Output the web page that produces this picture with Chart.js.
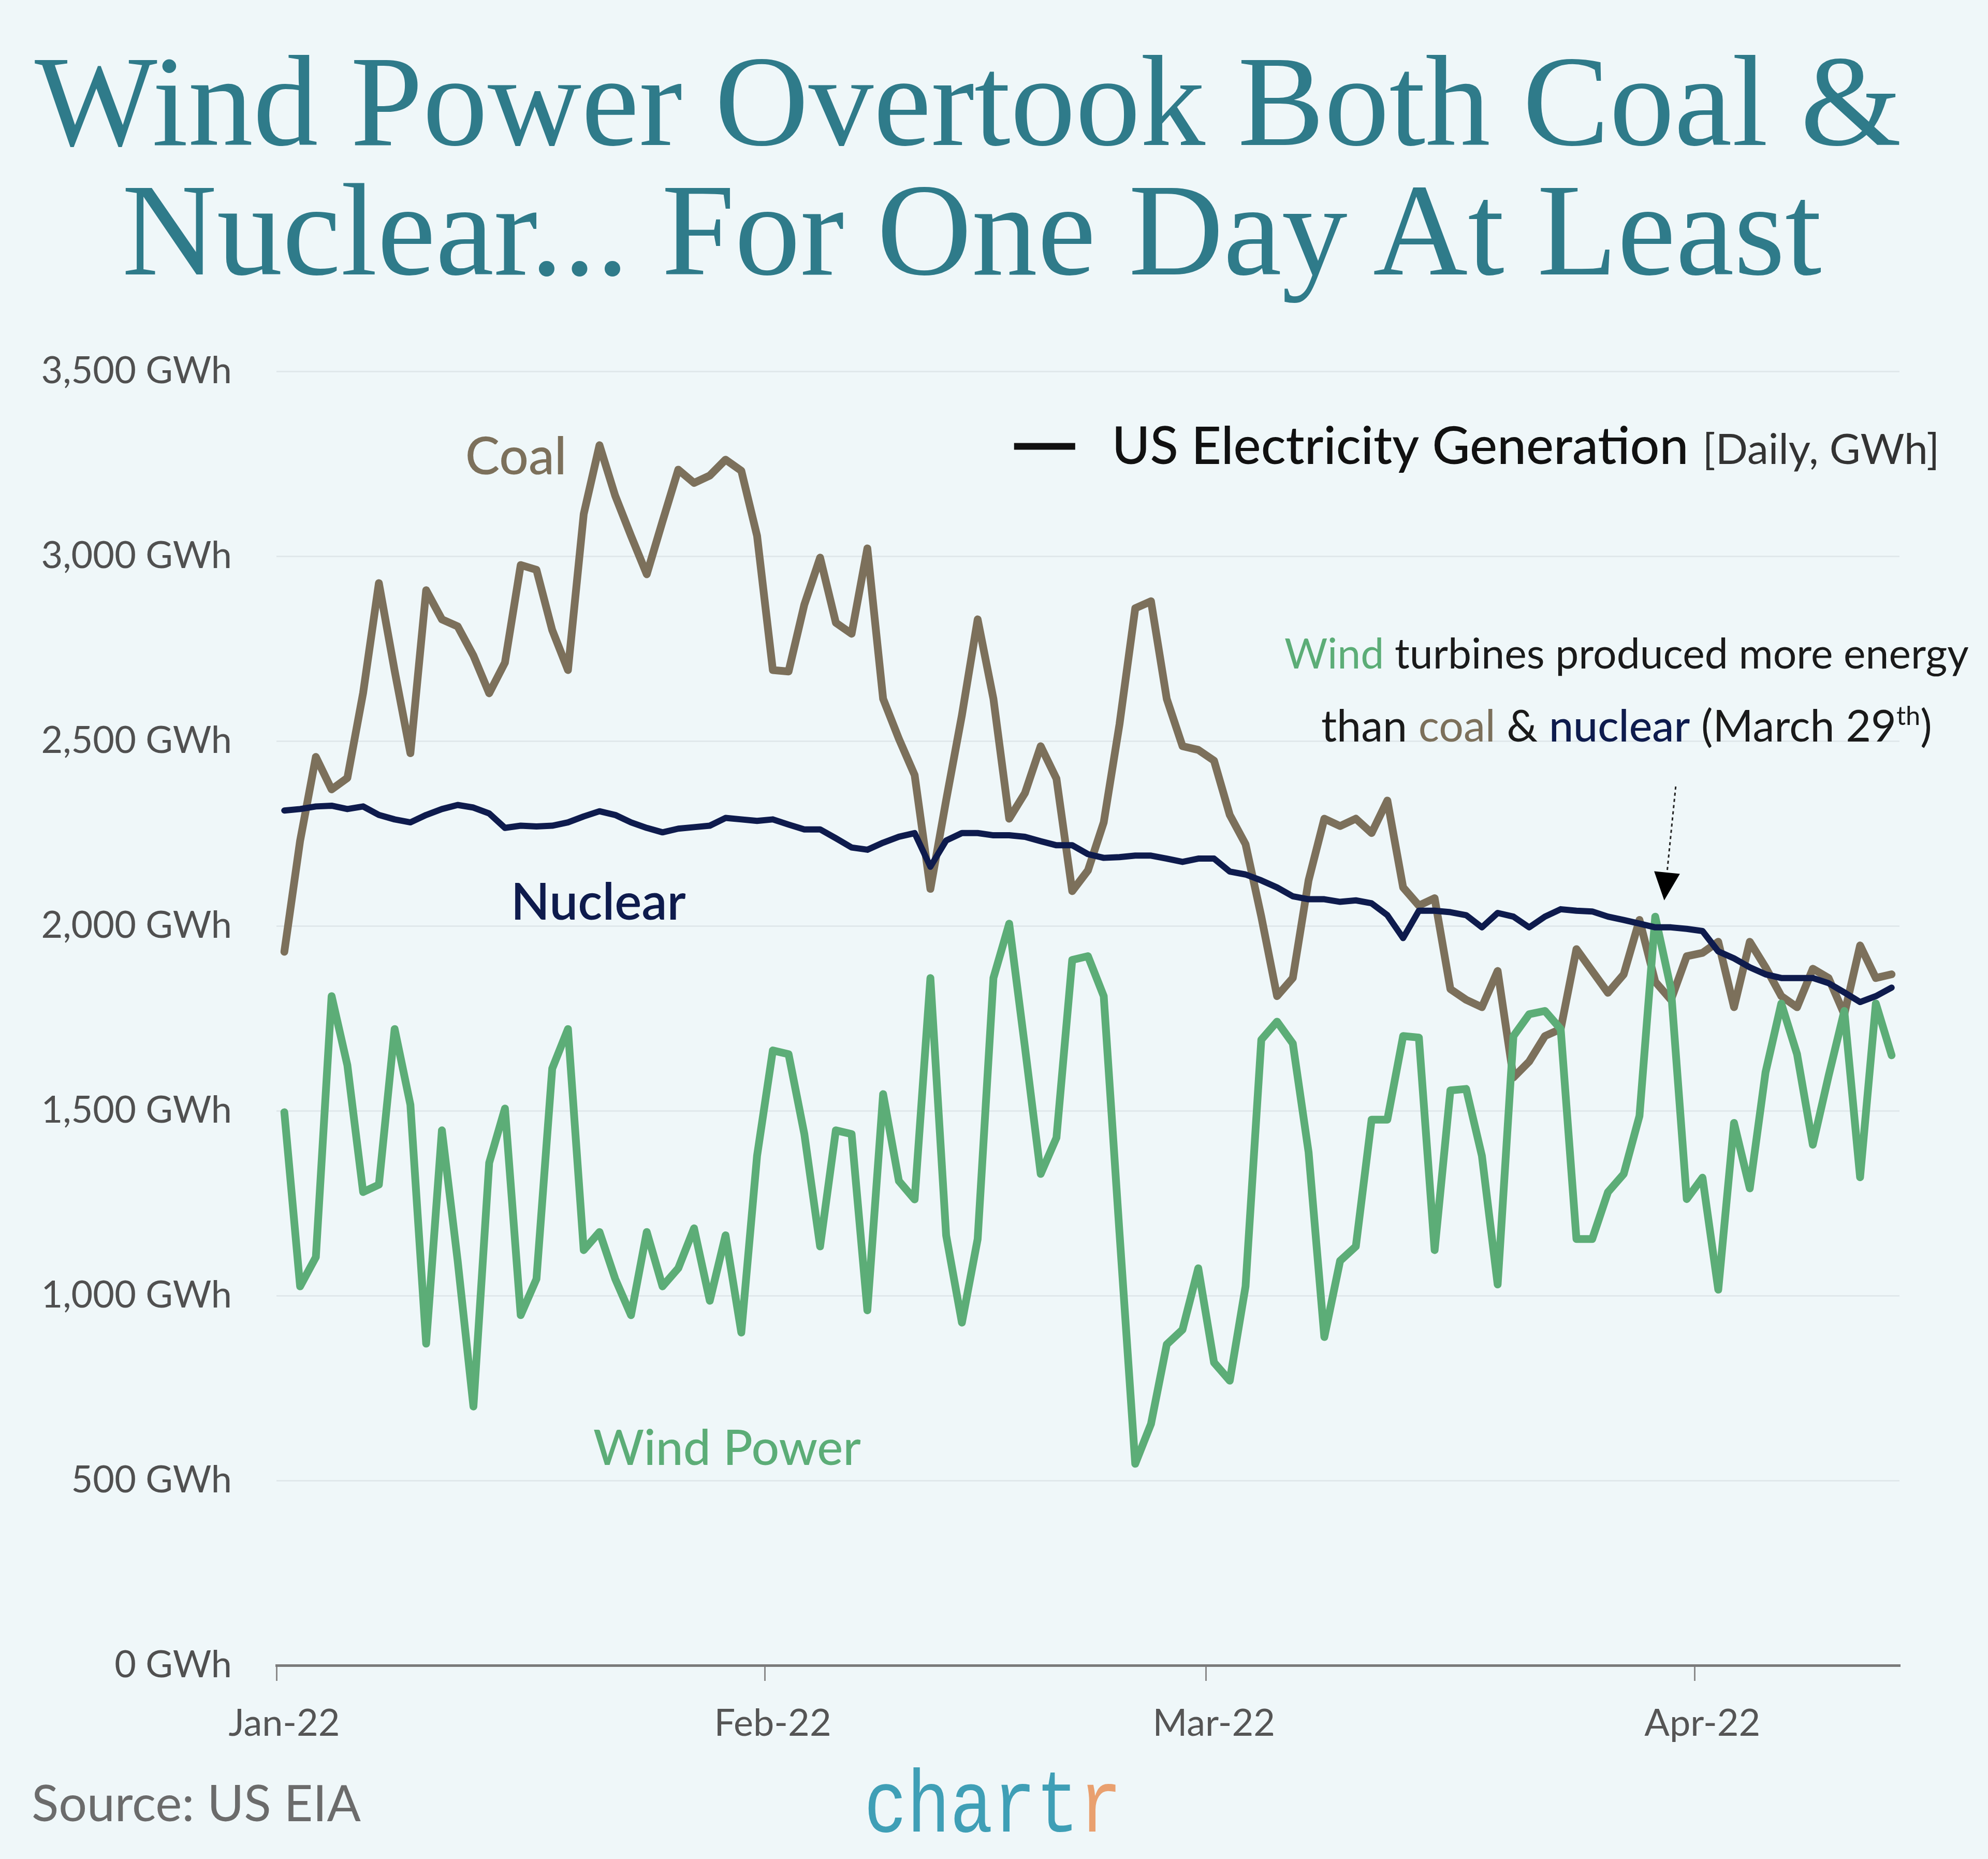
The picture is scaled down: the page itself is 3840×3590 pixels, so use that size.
<!DOCTYPE html>
<html>
<head>
<meta charset="utf-8">
<script src="https://cdn.jsdelivr.net/npm/chart.js@4.4.1/dist/chart.umd.min.js"></script>
<style>
  html, body { margin:0; padding:0; background:#eff7f9; overflow:hidden; }
  #wrap { position:relative; width:3840px; height:3590px; background:#eff7f9; overflow:hidden; }
  #c { position:absolute; left:0; top:0; }
  .txt { position:absolute; white-space:nowrap; line-height:1.2; }
  .bl { display:inline-block; width:0; height:0; vertical-align:baseline; }
  .title { font-family:"Liberation Serif", serif; color:#2f7b8a; }
  #src { font-family:"Lato", sans-serif; color:#6b6b6b; }
  #logo { font-family:"Liberation Mono", monospace; color:#3f9fb6; }
  #logo .r { color:#e9a06f; }
</style>
</head>
<body>
<div id="wrap">
  <canvas id="c" width="3840" height="3590"></canvas>
  <div class="txt title" id="t1">Wind Power Overtook Both Coal &amp;<span class="bl"></span></div>
  <div class="txt title" id="t2">Nuclear... For One Day At Least<span class="bl"></span></div>
  <div class="txt" id="src">Source: US EIA<span class="bl"></span></div>
  <div class="txt" id="logo">chart<span class="r">r</span><span class="bl"></span></div>
</div>
<script>
// ---------------- DATA ----------------
const startDate = '2022-01-01';
const tickLabels = ['Jan-22', 'Feb-22', 'Mar-22', 'Apr-22'];

const coal = [
  1930, 2230, 2457, 2369, 2400, 2630, 2927, 2690, 2467, 2908,
  2829, 2810, 2731, 2629, 2712, 2976, 2963, 2800, 2692, 3114,
  3300, 3163, 3055, 2951, 3094, 3234, 3198, 3218, 3261, 3231,
  3055, 2692, 2688, 2869, 2996, 2820, 2790, 3021, 2614, 2506,
  2408, 2100, 2340, 2570, 2829, 2614, 2290, 2359, 2486, 2398,
  2094, 2150, 2280, 2545, 2859, 2878, 2614, 2486, 2476, 2447,
  2300, 2221, 2025, 1810, 1859, 2123, 2290, 2270, 2290, 2251,
  2339, 2104, 2055, 2075, 1829, 1800, 1780, 1878, 1590, 1633,
  1702, 1721, 1937, 1878, 1819, 1869, 2016, 1849, 1800, 1918,
  1927, 1957, 1780, 1957, 1888, 1810, 1780, 1884, 1859, 1761,
  1947, 1859, 1869
];

const nuclear = [
  2312, 2316, 2323, 2325, 2316, 2323, 2300, 2288, 2280, 2300,
  2316, 2327, 2320, 2304, 2265, 2271, 2269, 2271, 2280, 2296,
  2310, 2300, 2280, 2265, 2253, 2263, 2267, 2271, 2292, 2288,
  2284, 2288, 2274, 2261, 2261, 2237, 2212, 2206, 2225, 2241,
  2251, 2160, 2231, 2251, 2251, 2245, 2245, 2241, 2229, 2218,
  2218, 2194, 2184, 2186, 2190, 2190, 2182, 2173, 2182, 2182,
  2147, 2139, 2123, 2104, 2080, 2072, 2072, 2065, 2069, 2061,
  2029, 1967, 2041, 2041, 2037, 2029, 1996, 2035, 2025, 1996,
  2025, 2045, 2041, 2039, 2025, 2016, 2006, 1996, 1996, 1992,
  1986, 1931, 1912, 1888, 1869, 1859, 1859, 1859, 1845, 1820,
  1794, 1810, 1833
];

const wind = [
  1496, 1025, 1104, 1810, 1623, 1280, 1300, 1721, 1516, 870,
  1447, 1094, 700, 1359, 1506, 947, 1045, 1614, 1721, 1123,
  1172, 1045, 947, 1172, 1025, 1074, 1182, 986, 1163, 900,
  1378, 1663, 1653, 1437, 1133, 1447, 1437, 960, 1545, 1310,
  1260, 1859, 1163, 927, 1153, 1859, 2006, 1672, 1329, 1427,
  1908, 1918, 1810, 1170, 545, 653, 868, 908, 1074, 819,
  770, 1025, 1692, 1741, 1682, 1388, 888, 1094, 1133, 1476,
  1476, 1702, 1698, 1123, 1555, 1559, 1378, 1030, 1702, 1761,
  1770, 1721, 1153, 1153, 1280, 1329, 1486, 2025, 1829, 1261,
  1319, 1016, 1467, 1290, 1604, 1790, 1653, 1408, 1594, 1770,
  1320, 1790, 1650
];

// ---------------- DERIVED ----------------
const days = coal.map((_, i) => {
  const d = new Date(startDate + 'T00:00:00Z');
  d.setUTCDate(d.getUTCDate() + i);
  return d;
});
// month boundaries (half a day before each 1st)
const monthTickValues = days.map((d, i) => d.getUTCDate() === 1 ? i - 0.5 : null).filter(v => v !== null);

const toXY = arr => arr.map((v, i) => ({ x: i, y: v }));

const COL = {
  coal: '#7c705b',
  nuclear: '#0e1b4d',
  wind: '#5cad77',
  text: '#1a1a1a'
};
const FONT = '"Lato", "Open Sans", sans-serif';

function fitSize(ctx, text, weight, family, width) {
  ctx.font = `${weight} 100px ${family}`;
  return 100 * width / ctx.measureText(text).width;
}

function richWidth(ctx, segs, size, family) {
  let total = 0;
  segs.forEach(s => {
    const sz = s.sup ? size * 0.6 : size;
    ctx.font = `${s.weight || 400} ${sz}px ${family}`;
    total += ctx.measureText(s.t).width;
  });
  return total;
}

// segments: [{t, color, weight, sup}]
function drawRich(ctx, segs, size, cx, baseY, family) {
  const total = richWidth(ctx, segs, size, family);
  let x = cx - total / 2;
  ctx.textBaseline = 'alphabetic';
  ctx.textAlign = 'left';
  segs.forEach(s => {
    const sz = s.sup ? size * 0.6 : size;
    ctx.font = `${s.weight || 400} ${sz}px ${family}`;
    ctx.fillStyle = s.color;
    ctx.fillText(s.t, x, s.sup ? baseY - size * 0.38 : baseY);
    x += ctx.measureText(s.t).width;
  });
}

const labelPlugin = {
  id: 'labelPlugin',
  afterDatasetsDraw(chart) {
    const { ctx, scales: { x, y } } = chart;
    ctx.save();
    ctx.textBaseline = 'alphabetic';
    ctx.textAlign = 'center';

    // series labels
    const series = [
      { t: 'Coal', xv: 14.7, yv: 3221, w: 196, c: COL.coal, wt: 500 },
      { t: 'Nuclear', xv: 19.93, yv: 2017, w: 338, c: COL.nuclear, wt: 600 },
      { t: 'Wind Power', xv: 28.1, yv: 542, w: 517, c: COL.wind, wt: 500 }
    ];
    series.forEach(s => {
      const sz = fitSize(ctx, s.t, s.wt, FONT, s.w);
      ctx.font = `${s.wt} ${sz}px ${FONT}`;
      ctx.fillStyle = s.c;
      ctx.fillText(s.t, x.getPixelForValue(s.xv), y.getPixelForValue(s.yv));
    });

    // legend
    const lx1 = x.getPixelForValue(46.31), lx2 = x.getPixelForValue(50.19);
    const ly = y.getPixelForValue(3297);
    ctx.strokeStyle = '#111';
    ctx.lineWidth = 13;
    ctx.lineCap = 'butt';
    ctx.beginPath(); ctx.moveTo(lx1, ly); ctx.lineTo(lx2, ly); ctx.stroke();
    const legMain = 'US Electricity Generation';
    const legSz = fitSize(ctx, legMain, 500, FONT, 1114);
    const tx = x.getPixelForValue(52.52), tyy = y.getPixelForValue(3249);
    ctx.textAlign = 'left';
    ctx.font = `500 ${legSz}px ${FONT}`;
    ctx.fillStyle = '#111';
    ctx.fillText(legMain, tx, tyy);
    const legSub = '[Daily, GWh]';
    const subSz = fitSize(ctx, legSub, 400, FONT, 458);
    ctx.font = `400 ${subSz}px ${FONT}`;
    ctx.fillStyle = '#333';
    ctx.fillText(legSub, x.getPixelForValue(90.0), tyy);

    // annotation
    const cx = x.getPixelForValue(85.18);
    const line1 = [
      { t: 'Wind', color: COL.wind },
      { t: ' turbines produced more energy', color: COL.text }
    ];
    const line2 = [
      { t: 'than ', color: COL.text },
      { t: 'coal', color: COL.coal },
      { t: ' & ', color: COL.text },
      { t: 'nuclear', color: COL.nuclear, weight: 500 },
      { t: ' (March 29', color: COL.text },
      { t: 'th', color: COL.text, sup: true },
      { t: ')', color: COL.text }
    ];
    const s1 = 100 * 1322 / richWidth(ctx, line1, 100, FONT);
    const s2 = 100 * 1180 / richWidth(ctx, line2, 100, FONT);
    drawRich(ctx, line1, s1, cx, y.getPixelForValue(2696), FONT);
    drawRich(ctx, line2, s2, cx, y.getPixelForValue(2498), FONT);

    // arrow
    const ax1 = x.getPixelForValue(88.3), ay1 = y.getPixelForValue(2377);
    const ax2 = x.getPixelForValue(87.57), ay2 = y.getPixelForValue(2069);
    const ang = Math.atan2(ay2 - ay1, ax2 - ax1);
    const headLen = 54, headHalf = 25;
    const bx = ax2 - headLen * Math.cos(ang), by = ay2 - headLen * Math.sin(ang);
    ctx.setLineDash([6, 6]);
    ctx.strokeStyle = '#222';
    ctx.lineWidth = 3;
    ctx.beginPath(); ctx.moveTo(ax1, ay1); ctx.lineTo(bx, by); ctx.stroke();
    ctx.setLineDash([]);
    ctx.fillStyle = '#000';
    ctx.beginPath();
    ctx.moveTo(ax2, ay2);
    ctx.lineTo(bx + headHalf * Math.sin(ang), by - headHalf * Math.cos(ang));
    ctx.lineTo(bx - headHalf * Math.sin(ang), by + headHalf * Math.cos(ang));
    ctx.closePath();
    ctx.fill();

    ctx.restore();
  }
};

const chart = new Chart(document.getElementById('c').getContext('2d'), {
  type: 'line',
  data: {
    datasets: [
      { label: 'Nuclear', data: toXY(nuclear), borderColor: COL.nuclear, borderWidth: 12, order: 1 },
      { label: 'Wind Power', data: toXY(wind), borderColor: COL.wind, borderWidth: 15, order: 2 },
      { label: 'Coal', data: toXY(coal), borderColor: COL.coal, borderWidth: 15, order: 3 }
    ]
  },
  options: {
    responsive: false,
    devicePixelRatio: 1,
    animation: false,
    layout: { padding: { left: 0, right: 171, top: 717, bottom: 0 } },
    elements: {
      point: { radius: 0, hoverRadius: 0 },
      line: { tension: 0, borderJoinStyle: 'round', borderCapStyle: 'round', fill: false }
    },
    plugins: {
      legend: { display: false },
      tooltip: { enabled: false },
      title: { display: false }
    },
    scales: {
      x: {
        type: 'linear',
        min: -0.5,
        max: days.length - 0.5,
        afterBuildTicks: s => { s.ticks = monthTickValues.map(v => ({ value: v })); },
        afterFit: s => { s.height = 374; },
        ticks: {
          autoSkip: false,
          maxRotation: 0,
          padding: 40,
          labelOffset: 15,
          color: '#555',
          font: { family: FONT, size: 72 },
          callback: (v) => {
            const k = monthTickValues.indexOf(v);
            return k >= 0 ? tickLabels[k] : '';
          }
        },
        grid: { drawOnChartArea: false, drawTicks: true, tickLength: 30, color: '#8a8a8a', lineWidth: 3 },
        border: { display: true, color: '#7a7a7a', width: 5 }
      },
      y: {
        min: 0,
        max: 3500,
        afterFit: s => { s.width = 534; },
        ticks: {
          stepSize: 500,
          padding: 86,
          color: '#505050',
          font: { family: FONT, size: 72 },
          callback: v => v.toLocaleString('en-US') + ' GWh'
        },
        grid: {
          drawTicks: false,
          lineWidth: 3,
          color: ctx => ctx.tick && ctx.tick.value === 0 ? 'rgba(0,0,0,0)' : '#e0e8eb'
        },
        border: { display: false }
      }
    }
  },
  plugins: [labelPlugin]
});

// ---------------- HTML TEXT PLACEMENT ----------------
function place(id, opts) {
  const el = document.getElementById(id);
  el.style.left = '0px'; el.style.top = '0px';
  el.style.fontSize = (opts.size || 100) + 'px';
  const w = el.getBoundingClientRect().width;
  let scaleX = 1;
  if (opts.size) {
    scaleX = opts.width / w;
  } else {
    el.style.fontSize = (100 * opts.width / w) + 'px';
  }
  const r = el.getBoundingClientRect();
  const m = el.querySelector('.bl').getBoundingClientRect();
  const baseOff = m.bottom - r.top;
  el.style.top = (opts.baseline - baseOff) + 'px';
  el.style.left = (opts.cx !== undefined ? opts.cx - r.width / 2 : opts.left) + 'px';
  if (scaleX !== 1) {
    el.style.transformOrigin = '50% 50%';
    el.style.transform = `scaleX(${scaleX})`;
  }
}
place('t1', { cx: 1870, baseline: 280, width: 3606 });
place('t2', { cx: 1877, baseline: 530, width: 3283 });
place('src', { left: 61, baseline: 3517, width: 636 });
place('logo', { cx: 1918, baseline: 3537, width: 498, size: 170 });
</script>
</body>
</html>
